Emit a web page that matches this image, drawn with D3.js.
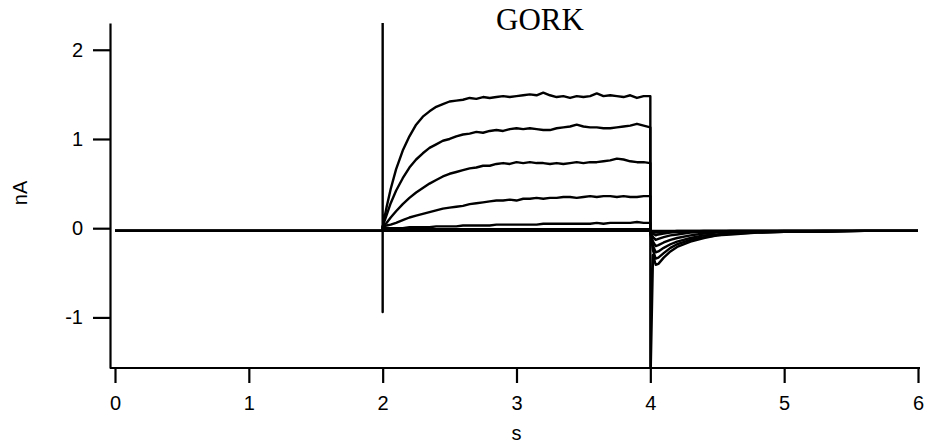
<!DOCTYPE html>
<html lang="en">
<head>
  <meta charset="UTF-8">
  <title>GORK</title>
  <script src="https://d3js.org/d3.v7.min.js"></script>
  <style>
    body { margin: 0; background: #fff; }
  </style>
</head>
<body>
  <svg width="925" height="444"></svg>

  <script>
    // time points (s)
    const holdT = [0, 0.5, 1.0, 1.5, 2.0];
    const pulseT = [2.00, 2.03, 2.06, 2.10, 2.15, 2.20, 2.25, 2.30, 2.35, 2.40, 2.45, 2.50, 2.55, 2.60,
      2.65, 2.70, 2.75, 2.80, 2.85, 2.90, 2.95, 3.00, 3.05, 3.10, 3.15, 3.20, 3.25, 3.30, 3.35, 3.40,
      3.45, 3.50, 3.55, 3.60, 3.65, 3.70, 3.75, 3.80, 3.85, 3.90, 3.95, 4.00];
    const tailT = [4.00, 4.02, 4.04, 4.06, 4.10, 4.15, 4.20, 4.30, 4.40, 4.50, 4.60, 4.80, 5.00, 5.30, 5.60, 6.00];

    // holding current before the pulse (nA)
    const holdV = [-0.03, -0.03, -0.03, -0.03, -0.03];

    // currents during the voltage step (nA)
    const pulseA = [0.02, 0.24, 0.44, 0.66, 0.87, 1.03, 1.16, 1.25, 1.31, 1.36, 1.39, 1.42, 1.43, 1.44,
      1.46, 1.45, 1.47, 1.46, 1.47, 1.48, 1.47, 1.48, 1.49, 1.50, 1.49, 1.52, 1.49, 1.47, 1.48, 1.46,
      1.48, 1.47, 1.48, 1.51, 1.48, 1.49, 1.48, 1.47, 1.49, 1.46, 1.48, 1.48];
    const pulseB = [0.02, 0.15, 0.28, 0.42, 0.56, 0.68, 0.77, 0.84, 0.90, 0.94, 0.98, 1.00, 1.03, 1.05,
      1.06, 1.08, 1.07, 1.09, 1.10, 1.09, 1.11, 1.12, 1.11, 1.12, 1.11, 1.10, 1.10, 1.12, 1.13, 1.14,
      1.16, 1.14, 1.13, 1.13, 1.12, 1.12, 1.13, 1.14, 1.15, 1.17, 1.15, 1.13];
    const pulseC = [0.02, 0.06, 0.12, 0.19, 0.27, 0.34, 0.40, 0.45, 0.50, 0.54, 0.58, 0.61, 0.63, 0.65,
      0.67, 0.68, 0.70, 0.70, 0.72, 0.73, 0.72, 0.74, 0.73, 0.74, 0.73, 0.73, 0.72, 0.73, 0.72, 0.73,
      0.74, 0.73, 0.74, 0.74, 0.75, 0.76, 0.78, 0.77, 0.75, 0.74, 0.74, 0.73];
    const pulseD = [0.02, 0.03, 0.04, 0.06, 0.09, 0.12, 0.14, 0.16, 0.18, 0.20, 0.22, 0.23, 0.24, 0.25,
      0.27, 0.28, 0.29, 0.30, 0.31, 0.31, 0.32, 0.31, 0.33, 0.33, 0.34, 0.33, 0.34, 0.34, 0.35, 0.35,
      0.34, 0.35, 0.36, 0.35, 0.36, 0.36, 0.35, 0.36, 0.35, 0.35, 0.36, 0.36];
    const pulseE = [0.00, 0.00, 0.00, 0.00, 0.00, 0.01, 0.01, 0.01, 0.01, 0.02, 0.02, 0.02, 0.02, 0.03,
      0.03, 0.03, 0.03, 0.03, 0.04, 0.04, 0.04, 0.04, 0.04, 0.04, 0.04, 0.05, 0.05, 0.05, 0.05, 0.05,
      0.05, 0.05, 0.05, 0.06, 0.05, 0.06, 0.06, 0.06, 0.06, 0.07, 0.06, 0.06];
    const pulseF = [-0.01, -0.01, -0.01, -0.01, -0.01, -0.01, -0.01, -0.01, -0.01, -0.01, -0.01, -0.01, -0.01, -0.01,
      -0.01, -0.01, -0.01, -0.01, -0.01, -0.01, -0.01, -0.01, -0.01, -0.01, -0.01, -0.01, -0.01, -0.01, -0.01, -0.01,
      -0.01, -0.01, -0.01, -0.01, -0.01, -0.01, -0.01, -0.01, -0.01, -0.01, -0.01, -0.01];
    const pulseG = [-0.02, -0.02, -0.02, -0.02, -0.02, -0.02, -0.02, -0.02, -0.02, -0.02, -0.02, -0.02, -0.02, -0.02,
      -0.02, -0.02, -0.02, -0.02, -0.02, -0.02, -0.02, -0.02, -0.02, -0.02, -0.02, -0.02, -0.02, -0.02, -0.02, -0.02,
      -0.02, -0.02, -0.02, -0.02, -0.02, -0.02, -0.02, -0.02, -0.02, -0.02, -0.02, -0.02];
    const pulseH = [-0.03, -0.03, -0.03, -0.03, -0.03, -0.03, -0.03, -0.03, -0.03, -0.03, -0.03, -0.03, -0.03, -0.03,
      -0.03, -0.03, -0.03, -0.03, -0.03, -0.03, -0.03, -0.03, -0.03, -0.03, -0.03, -0.03, -0.03, -0.03, -0.03, -0.03,
      -0.03, -0.03, -0.03, -0.03, -0.03, -0.03, -0.03, -0.03, -0.03, -0.03, -0.03, -0.03];

    // tail currents after the step (nA)
    const tailA = [-1.80, -0.30, -0.41, -0.40, -0.33, -0.26, -0.21, -0.15, -0.11, -0.08, -0.07, -0.05, -0.04, -0.04, -0.03, -0.03];
    const tailB = [-0.05, -0.25, -0.34, -0.33, -0.28, -0.22, -0.18, -0.13, -0.10, -0.08, -0.06, -0.05, -0.04, -0.04, -0.03, -0.03];
    const tailC = [-0.05, -0.20, -0.27, -0.26, -0.22, -0.18, -0.15, -0.11, -0.08, -0.07, -0.05, -0.04, -0.04, -0.03, -0.03, -0.03];
    const tailD = [-0.05, -0.15, -0.20, -0.19, -0.16, -0.13, -0.11, -0.08, -0.06, -0.05, -0.04, -0.04, -0.03, -0.03, -0.03, -0.03];
    const tailE = [-0.04, -0.10, -0.13, -0.12, -0.10, -0.08, -0.07, -0.05, -0.04, -0.04, -0.03, -0.03, -0.03, -0.03, -0.03, -0.03];
    const tailF = [-0.03, -0.06, -0.08, -0.07, -0.06, -0.05, -0.04, -0.04, -0.03, -0.03, -0.03, -0.03, -0.03, -0.03, -0.03, -0.03];
    const tailG = [-0.03, -0.04, -0.05, -0.05, -0.04, -0.04, -0.03, -0.03, -0.03, -0.03, -0.03, -0.03, -0.03, -0.03, -0.03, -0.03];
    const tailH = [-0.03, -0.03, -0.03, -0.03, -0.03, -0.03, -0.03, -0.03, -0.03, -0.03, -0.03, -0.03, -0.03, -0.03, -0.03, -0.03];

    // capacitive transient at step onset (t, nA)
    const onsetSpike = [[2.0, -0.03], [2.0, 2.60], [2.0, -0.94], [2.0, 0.02]];

    const xTicks = [0, 1, 2, 3, 4, 5, 6];
    const yTicks = [-1, 0, 1, 2];

    const pulses = [pulseA, pulseB, pulseC, pulseD, pulseE, pulseF, pulseG, pulseH];
    const tails = [tailA, tailB, tailC, tailD, tailE, tailF, tailG, tailH];

    // build each sweep: hold -> step -> tail
    const sweeps = pulses.map((p, i) => {
      const pts = holdT.map((t, j) => [t, holdV[j]]);
      if (i === 0) onsetSpike.forEach(d => pts.push(d));
      pulseT.forEach((t, j) => pts.push([t, p[j]]));
      tailT.forEach((t, j) => pts.push([t, tails[i][j]]));
      return pts;
    });

    const sans = '"Liberation Sans", Arial, sans-serif';
    const svg = d3.select('svg');

    const x = d3.scaleLinear().domain([0, 6]).range([115, 918]);
    const y = d3.scaleLinear().domain([-1.567, 2.30]).range([368, 23]);

    svg.append('clipPath').attr('id', 'plot')
      .append('rect')
      .attr('x', 110).attr('y', y.range()[1])
      .attr('width', 815).attr('height', y.range()[0] - y.range()[1]);

    const line = d3.line().x(d => x(d[0])).y(d => y(d[1]));

    // sweeps, drawn smallest first
    svg.append('g').attr('clip-path', 'url(#plot)')
      .selectAll('path')
      .data(sweeps.slice().reverse())
      .enter().append('path')
      .attr('d', line)
      .attr('fill', 'none')
      .attr('stroke', '#000')
      .attr('stroke-width', 2.4)
      .attr('stroke-linejoin', 'round');

    // y axis (plain hyphen for negatives, as in the original)
    const yAxis = svg.append('g')
      .attr('transform', 'translate(110,0)')
      .call(d3.axisLeft(y).tickValues(yTicks).tickFormat(d => String(d))
        .tickSize(17).tickSizeOuter(0).tickPadding(10));
    yAxis.select('.domain').attr('stroke-width', 2.2);
    yAxis.selectAll('.tick line').attr('stroke-width', 2.2);
    yAxis.selectAll('.tick text').attr('font-size', 20).attr('font-family', sans);

    // x axis
    const xAxis = svg.append('g')
      .attr('transform', 'translate(0,368)')
      .call(d3.axisBottom(x).tickValues(xTicks).tickFormat(d => String(d))
        .tickSize(15).tickSizeOuter(0).tickPadding(13));
    xAxis.select('.domain').remove();
    xAxis.append('line')
      .attr('x1', 110).attr('x2', x(6) + 2)
      .attr('stroke', '#000').attr('stroke-width', 2.2);
    xAxis.selectAll('.tick line').attr('stroke-width', 2.2);
    xAxis.selectAll('.tick text').attr('font-size', 20).attr('font-family', sans);

    // axis labels
    svg.append('text')
      .attr('transform', 'translate(27,193) rotate(-90)')
      .attr('text-anchor', 'middle')
      .attr('font-family', sans)
      .attr('font-size', 20)
      .text('nA');

    svg.append('text')
      .attr('x', x(3)).attr('y', 440)
      .attr('text-anchor', 'middle')
      .attr('font-family', sans)
      .attr('font-size', 20)
      .text('s');

    // title
    svg.append('text')
      .attr('x', 540).attr('y', 30)
      .attr('text-anchor', 'middle')
      .attr('font-family', '"Liberation Serif", "Times New Roman", serif')
      .attr('font-size', 31)
      .text('GORK');
  </script>
</body>
</html>
